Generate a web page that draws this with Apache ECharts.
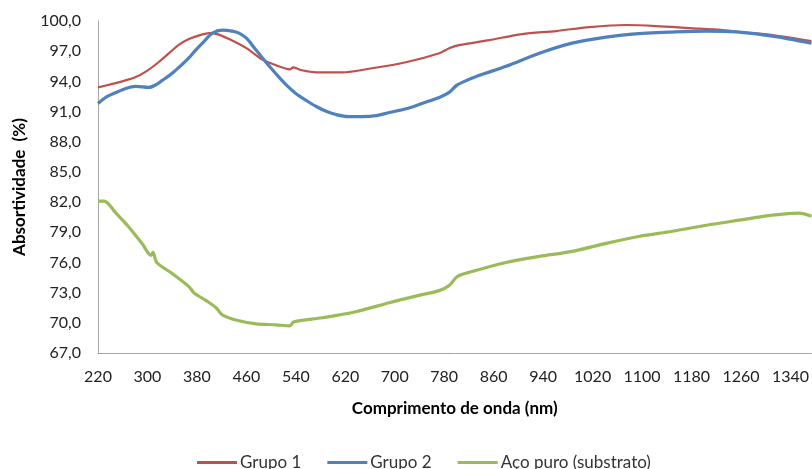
<!DOCTYPE html>
<html>
<head>
<meta charset="utf-8">
<script src="https://cdn.jsdelivr.net/npm/echarts@6/dist/echarts.min.js"></script>
<style>
html,body{margin:0;padding:0;background:#fff;}
#c{width:812px;height:469px;}
</style>
</head>
<body>
<div id="c"></div>
<script>
var seriesNames = ['Grupo 1', 'Grupo 2', 'Aço puro (substrato)'];

var wl1 = [220,240,259,280,298,318,335,350,367,385,400,413,432,460,485,508,530,536,550,573,615,663,718,772,788,804,853,906,961,1015,1074,1123,1176,1230,1260,1311,1374];
var g1  = [93.4,93.7,94.0,94.4,95.0,95.9,96.8,97.6,98.2,98.6,98.8,98.7,98.2,97.3,96.2,95.6,95.2,95.4,95.1,94.9,94.9,95.3,95.9,96.8,97.3,97.6,98.1,98.7,99.0,99.4,99.6,99.5,99.3,99.1,98.9,98.6,98.0];

var wl2 = [220,235,249,265,281,302,315,324,338,351,365,378,392,405,421,437,448,460,472,485,500,513,527,540,557,573,590,605,625,647,670,691,720,744,772,788,800,809,837,880,934,987,1042,1084,1149,1204,1257,1311,1374];
var g2  = [91.8,92.5,92.9,93.3,93.5,93.4,93.7,94.1,94.7,95.4,96.2,97.1,98.0,98.8,99.1,99.0,98.8,98.3,97.4,96.4,95.3,94.4,93.5,92.8,92.1,91.5,91.0,90.7,90.5,90.5,90.6,90.9,91.3,91.8,92.4,92.9,93.6,93.9,94.6,95.5,96.8,97.8,98.4,98.7,98.9,99.0,98.9,98.5,97.8];

var wl3 = [220,230,249,270,291,306,309,315,340,367,375,395,411,421,448,476,508,530,537,583,637,691,744,772,788,801,825,880,934,987,1042,1096,1149,1204,1257,1311,1354,1374];
var g3  = [82.1,82.1,80.9,79.5,77.9,76.7,77.0,76.0,74.9,73.6,73.0,72.2,71.5,70.8,70.2,69.9,69.8,69.7,70.1,70.5,71.1,72.0,72.8,73.2,73.7,74.6,75.1,76.0,76.6,77.1,77.9,78.6,79.1,79.7,80.2,80.7,80.9,80.6];

var xMin = 220, xMax = 1374, xStep = 80;
var yMin = 67, yMax = 100, yStep = 3;

function pairs(xs, ys){ return xs.map(function(x,i){ return [x, ys[i]]; }); }

var font = 'Lato, "Open Sans", sans-serif';
var chart = echarts.init(document.getElementById('c'), null, {renderer:'canvas'});
chart.setOption({
  animation:false,
  backgroundColor:'#fff',
  grid:{left:98, right:0, top:21, bottom:116, containLabel:false},
  legend:{
    left:192, top:449, itemWidth:40, itemHeight:3, itemGap:26, icon:'rect',
    textStyle:{fontFamily:font, fontSize:17, color:'#333', padding:[0,0,0,-2]},
    data:seriesNames
  },
  xAxis:{
    type:'value', min:xMin, max:xMax, interval:xStep,
    name:'Comprimento de onda (nm)', nameLocation:'middle', nameGap:47,
    nameTextStyle:{fontFamily:font, fontSize:17, fontWeight:'bold', color:'#000'},
    axisLine:{lineStyle:{color:'#a6a6a6', width:1}},
    axisTick:{show:false},
    axisLabel:{fontFamily:font, fontSize:16, color:'#222', margin:16, showMaxLabel:false,
      formatter:function(v){ return String(v); }},
    splitLine:{show:false}
  },
  yAxis:{
    type:'value', min:yMin, max:yMax, interval:yStep,
    name:'Absortividade  (%)', nameLocation:'middle', nameGap:70, nameRotate:90,
    nameTextStyle:{fontFamily:font, fontSize:17, fontWeight:'bold', color:'#000'},
    axisLine:{show:true, lineStyle:{color:'#a6a6a6', width:1}},
    axisTick:{show:false},
    axisLabel:{fontFamily:font, fontSize:16, color:'#222', margin:17,
      formatter:function(v){ return v.toFixed(1).replace('.', ','); }},
    splitLine:{show:false}
  },
  series:[
    {name:seriesNames[0], type:'line', showSymbol:false, symbol:'none', smooth:0.3,
     data:pairs(wl1,g1), itemStyle:{color:'#C0504D'}, lineStyle:{color:'#C0504D', width:2.2}, z:3},
    {name:seriesNames[1], type:'line', showSymbol:false, symbol:'none', smooth:0.3,
     data:pairs(wl2,g2), itemStyle:{color:'#4F81BD'}, lineStyle:{color:'#4F81BD', width:3.2}, z:4},
    {name:seriesNames[2], type:'line', showSymbol:false, symbol:'none', smooth:0.3,
     data:pairs(wl3,g3), itemStyle:{color:'#9BBB59'}, lineStyle:{color:'#9BBB59', width:3.2}, z:2}
  ]
});
</script>
</body>
</html>
